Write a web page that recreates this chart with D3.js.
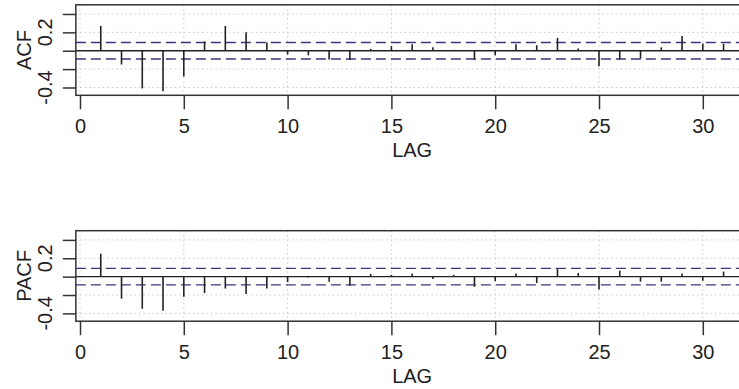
<!DOCTYPE html>
<html>
<head>
<meta charset="utf-8">
<script src="https://cdn.jsdelivr.net/npm/d3@7"></script>
<style>
  body { margin: 0; background: #fff; }
  svg { display: block; font-family: "Liberation Sans", Arial, sans-serif; }
</style>
</head>
<body>
<div id="chart"></div>
<script>
// lags shown in the picture
const lags = d3.range(1, 32);

// sample autocorrelations
const acfValues = [
  0.27, -0.15, -0.41, -0.44, -0.28, 0.10, 0.27, 0.20, 0.09, -0.04,
  -0.05, -0.095, -0.10, 0.02, 0.05, 0.07, 0.037, 0.01, -0.10, -0.05,
  0.07, 0.06, 0.14, 0.025, -0.17, -0.095, -0.085, 0.037, 0.16, 0.08,
  0.075
];

// partial autocorrelations
const pacfValues = [
  0.25, -0.24, -0.35, -0.37, -0.22, -0.18, -0.13, -0.19, -0.13, -0.06,
  -0.01, -0.055, -0.10, 0.03, 0.02, 0.035, -0.025, 0.02, -0.11, -0.05,
  0.035, -0.07, 0.083, 0.04, -0.14, 0.065, -0.055, -0.055, 0.035, -0.045,
  0.055
];

const bound = 0.09; // 2/sqrt(n)
const yTicks = [-0.4, -0.2, 0, 0.2, 0.4];
const yLabelTicks = [-0.4, 0.2];
const xTicks = [0, 5, 10, 15, 20, 25, 30];
const yDomain = [-0.485, 0.5];

const width = 739;
const height = 389;
const boxLeft = 75.85;
const boxH = 90.5;

const svg = d3
  .select('#chart')
  .append('svg')
  .attr('width', width)
  .attr('height', height);

// R style axis range: 4% padding on each side of the lag range
const pad = 0.04 * (d3.max(lags) - d3.min(lags));
const x = d3
  .scaleLinear()
  .domain([d3.min(lags) - pad, d3.max(lags) + pad])
  .range([boxLeft, boxLeft + 20.76 * (d3.max(lags) - d3.min(lags) + 2 * pad)]);

function drawPanel(values, label, top) {
  const g = svg.append('g');
  const y = d3.scaleLinear().domain(yDomain).range([top + boxH, top]);
  const [x0, x1] = x.range();

  // grid
  g.selectAll('.vgrid')
    .data(xTicks)
    .enter()
    .append('line')
    .attr('x1', (d) => x(d))
    .attr('x2', (d) => x(d))
    .attr('y1', top)
    .attr('y2', top + boxH)
    .attr('stroke', '#c8c8c8')
    .attr('stroke-dasharray', '1.5,3');

  g.selectAll('.hgrid')
    .data(yTicks.filter((d) => d !== 0))
    .enter()
    .append('line')
    .attr('x1', x0)
    .attr('x2', x1)
    .attr('y1', (d) => y(d))
    .attr('y2', (d) => y(d))
    .attr('stroke', '#c8c8c8')
    .attr('stroke-dasharray', '1.5,3');

  // significance bounds
  [bound, -bound].forEach((b) => {
    g.append('line')
      .attr('x1', x0)
      .attr('x2', x1)
      .attr('y1', y(b))
      .attr('y2', y(b))
      .attr('stroke', '#38387a')
      .attr('stroke-width', 1.4)
      .attr('stroke-dasharray', '10,5');
  });

  // zero line
  g.append('line')
    .attr('x1', x0)
    .attr('x2', x1)
    .attr('y1', y(0))
    .attr('y2', y(0))
    .attr('stroke', '#222')
    .attr('stroke-width', 1.4);

  // spikes
  g.selectAll('.spike')
    .data(lags)
    .enter()
    .append('line')
    .attr('x1', (d) => x(d))
    .attr('x2', (d) => x(d))
    .attr('y1', y(0))
    .attr('y2', (d, i) => y(values[i]))
    .attr('stroke', '#222')
    .attr('stroke-width', 1.6);

  // box
  g.append('rect')
    .attr('x', x0)
    .attr('y', top)
    .attr('width', x1 - x0)
    .attr('height', boxH)
    .attr('fill', 'none')
    .attr('stroke', '#333')
    .attr('stroke-width', 1.5);

  // y axis
  const yAxis = g
    .append('g')
    .attr('transform', `translate(${x0},0)`)
    .call(d3.axisLeft(y).tickValues(yTicks).tickSize(13).tickFormat(''));
  yAxis.select('.domain').remove();
  yAxis.selectAll('line').attr('stroke', '#333').attr('stroke-width', 1.5);

  g.selectAll('.ylab')
    .data(yLabelTicks)
    .enter()
    .append('text')
    .attr('transform', (d) => `translate(52,${y(d)}) rotate(-90)`)
    .attr('text-anchor', 'middle')
    .attr('font-size', 20)
    .attr('fill', '#222')
    .text((d) => d.toFixed(1));

  g.append('text')
    .attr('transform', `translate(31,${top + boxH / 2}) rotate(-90)`)
    .attr('text-anchor', 'middle')
    .attr('font-size', 20)
    .attr('fill', '#222')
    .text(label);

  // x axis
  const xAxis = g
    .append('g')
    .attr('transform', `translate(0,${top + boxH})`)
    .call(d3.axisBottom(x).tickValues(xTicks).tickSize(14).tickPadding(10));
  xAxis.select('.domain').remove();
  xAxis.selectAll('line').attr('stroke', '#333').attr('stroke-width', 1.5);
  xAxis
    .selectAll('text')
    .attr('font-size', 20)
    .attr('font-family', '"Liberation Sans", Arial, sans-serif')
    .attr('fill', '#222');

  g.append('text')
    .attr('x', (x0 + x1) / 2)
    .attr('y', top + boxH + 62)
    .attr('text-anchor', 'middle')
    .attr('font-size', 20)
    .attr('fill', '#222')
    .text('LAG');
}

drawPanel(acfValues, 'ACF', 4.8);
drawPanel(pacfValues, 'PACF', 230.7);
</script>
</body>
</html>
